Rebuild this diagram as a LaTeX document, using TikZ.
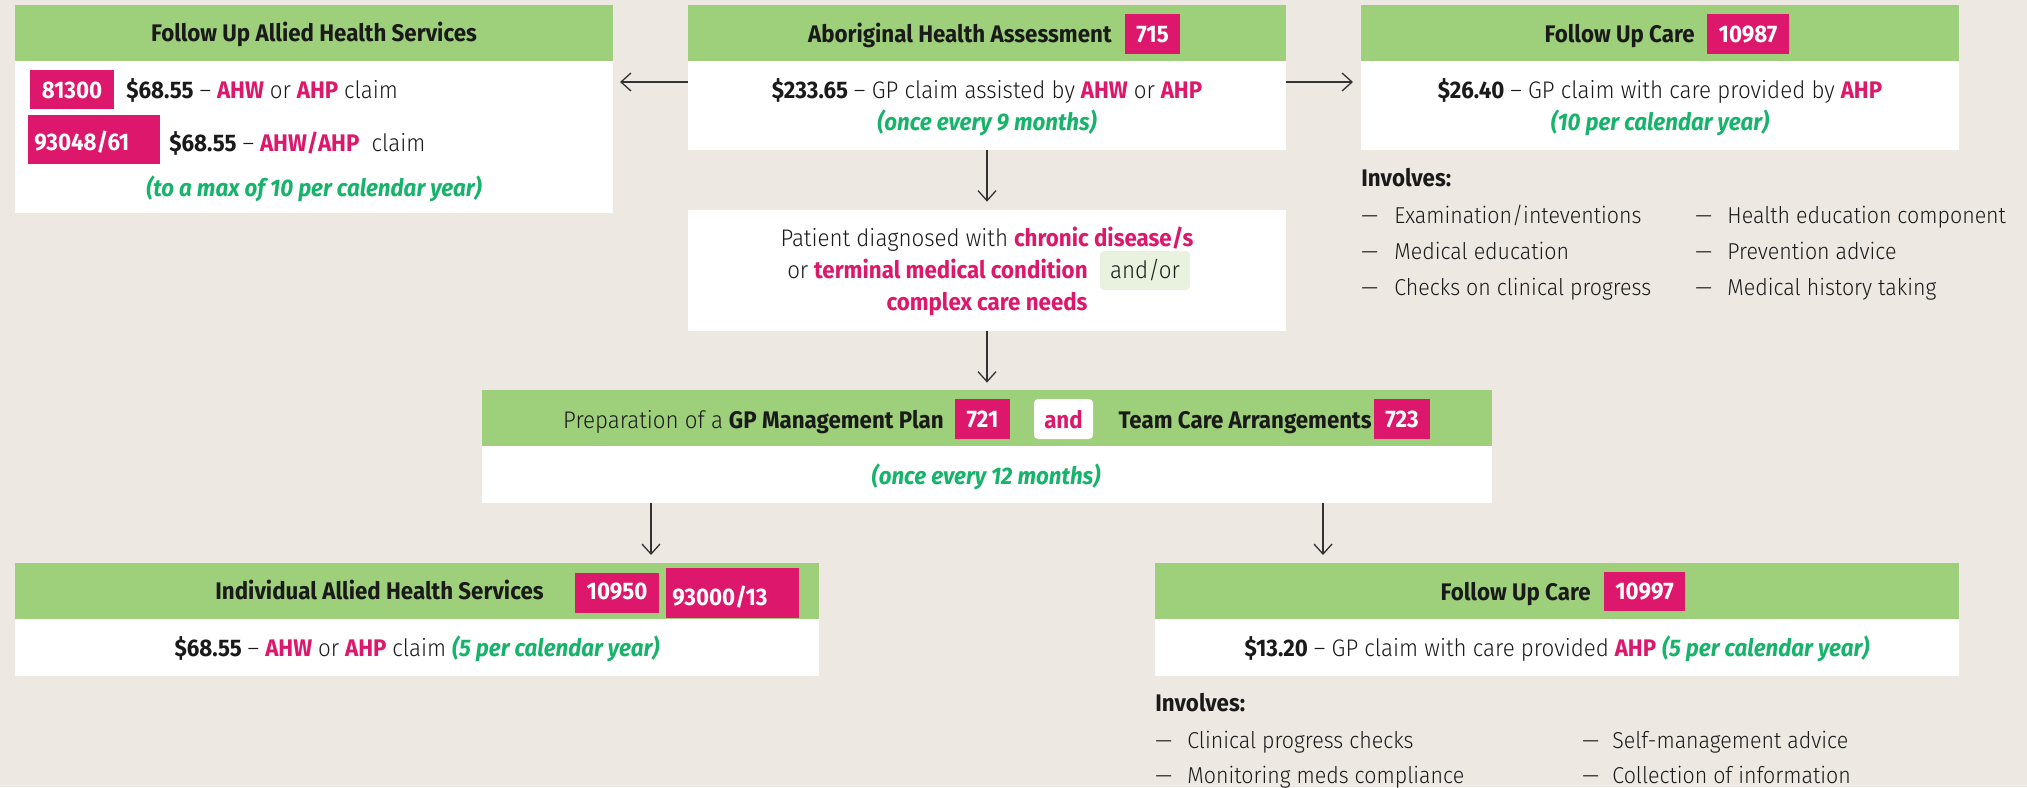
\documentclass[tikz,border=0pt]{standalone}
\usepackage{fontspec}
\setmainfont{Fira Sans}[FakeStretch=0.93]
\IfFontExistsTF{Fira Sans Light}{\newfontfamily\lightfont{Fira Sans Light}[FakeStretch=0.93]}{\newfontfamily\lightfont{Fira Sans}[FakeStretch=0.93]}
\usetikzlibrary{fit,arrows.meta}
\definecolor{bg}{HTML}{EDE9E2}
\definecolor{hgreen}{HTML}{9ECF7A}
\definecolor{mag}{HTML}{DC176C}
\definecolor{tgreen}{HTML}{16B36A}
\definecolor{andbg}{HTML}{E8F2DE}
\definecolor{ink}{HTML}{1A1A1A}
\definecolor{arrowc}{HTML}{333333}
\newcommand\fs{\fontsize{12}{14}\selectfont}
\newcommand\fsl{\fontsize{11.5}{14}\selectfont}
\newcommand\bd[1]{{\bfseries #1}}
\newcommand\mg[1]{{\bfseries\color{mag}#1}}
\newcommand\gi[1]{{\bfseries\itshape\color{tgreen}#1}}
\newcommand\lt[1]{{\lightfont #1}}
\tikzset{
  hdr/.style={fill=hgreen, inner sep=0pt},
  bodybox/.style={fill=white, inner sep=0pt},
  badge/.style={fill=mag, inner sep=0pt},
  txt/.style={inner sep=0pt, anchor=base, text=ink, font=\fs},
  txtw/.style={txt, anchor=base west},
  badgetxt/.style={txt, text=white, font=\fs\bfseries},
  item/.style={txtw, font=\fsl\lightfont},
  arr/.style={draw=arrowc, line width=0.65pt, -{Straight Barb[length=5pt,width=9pt]}}
}
\begin{document}
\begin{tikzpicture}[x=0.5pt,y=-0.5pt]
\fill[bg] (0,0) rectangle (2027,787);
\useasboundingbox (0,0) rectangle (2027,787);

% ---------- Box A: Follow Up Allied Health Services
\node[bodybox, fit={(15,5)(613,213)}] (A) {};
\node[hdr, fit={(15,5)(613,61)}] (Ah) {};
\node[txt] (Atitle) at (314,41) {\bfseries Follow Up Allied Health Services};
\node[badge, fit={(30,70)(114,109)}] (b81300) {};
\node[badgetxt] (b81300t) at (72,98) {81300};
\node[txtw] (Arow1) at (126,98) {\bd{\$68.55} \lt{–} \mg{AHW} \lt{or} \mg{AHP} \lt{claim}};
\node[badge, fit={(28,115)(160,164)}] (b93048) {};
\node[badgetxt, anchor=base west] (b93048t) at (34,150) {93048/61};
\node[txtw] (Arow2) at (169,151) {\bd{\$68.55} \lt{–} \mg{AHW/AHP} \lt{\ claim}};
\node[txt] (Agreen) at (314,196) {\gi{(to a max of 10 per calendar year)}};

% ---------- Box B: Aboriginal Health Assessment
\node[bodybox, fit={(688,5)(1286,150)}] (B) {};
\node[hdr, fit={(688,5)(1286,61)}] (Bh) {};
\node[txt, anchor=base east] (Btitle) at (1112,42) {\bfseries Aboriginal Health Assessment};
\node[badge, fit={(1125,14)(1180,54)}] (b715) {};
\node[badgetxt] (b715t) at (1152.5,42) {715};
\node[txt] (Bl1) at (987,98) {\bd{\$233.65} \lt{– GP claim assisted by} \mg{AHW} \lt{or} \mg{AHP}};
\node[txt] (Bl2) at (987,130) {\gi{(once every 9 months)}};

% ---------- Box C: Follow Up Care 10987
\node[bodybox, fit={(1361,5)(1959,150)}] (C) {};
\node[hdr, fit={(1361,5)(1959,61)}] (Ch) {};
\node[txt, anchor=base east] (Ctitle) at (1695,42) {\bfseries Follow Up Care};
\node[badge, fit={(1707,14)(1789,54)}] (b10987) {};
\node[badgetxt] (b10987t) at (1748,42) {10987};
\node[txt] (Cl1) at (1660,98) {\bd{\$26.40} \lt{– GP claim with care provided by} \mg{AHP}};
\node[txt] (Cl2) at (1660,130) {\gi{(10 per calendar year)}};
\node[txtw] (Cinv) at (1361,186) {\bfseries Involves:};
\node[item] (Cd1) at (1361,223) {—};
\node[item] (Ct1) at (1394,223) {Examination/inteventions};
\node[item] (Cd2) at (1361,259) {—};
\node[item] (Ct2) at (1394,259) {Medical education};
\node[item] (Cd3) at (1361,295) {—};
\node[item] (Ct3) at (1394,295) {Checks on clinical progress};
\node[item] (Cd4) at (1695,223) {—};
\node[item] (Ct4) at (1727,223) {Health education component};
\node[item] (Cd5) at (1695,259) {—};
\node[item] (Ct5) at (1727,259) {Prevention advice};
\node[item] (Cd6) at (1695,295) {—};
\node[item] (Ct6) at (1727,295) {Medical history taking};

% ---------- Box D: Patient diagnosed
\node[bodybox, fit={(688,210)(1286,331)}] (D) {};
\node[txt] (Dl1) at (987,246) {\lt{Patient diagnosed with} \mg{chronic disease/s}};
\node[txt, anchor=base east] (Dl2) at (1088,278) {\lt{or} \mg{terminal medical condition}};
\node[fill=andbg, rounded corners=2pt, inner sep=0pt, fit={(1100,251)(1190,290)}] (andor) {};
\node[txt] (andort) at (1145,278) {\lt{and/or}};
\node[txt] (Dl3) at (987,310) {\mg{complex care needs}};

% ---------- Box E: Preparation
\node[bodybox, fit={(482,390)(1492,503)}] (E) {};
\node[hdr, fit={(482,390)(1492,446)}] (Eh) {};
\node[txt, anchor=base east] (Etitle) at (944,428) {\lt{Preparation of a} \bd{GP Management Plan}};
\node[badge, fit={(955,399)(1010,439)}] (b721) {};
\node[badgetxt] (b721t) at (982.5,427) {721};
\node[fill=white, rounded corners=2pt, inner sep=0pt, fit={(1034,399)(1093,439)}] (andbox) {};
\node[txt] (andt) at (1063.5,428) {\mg{and}};
\node[txt, anchor=base east] (Etitle2) at (1372,428) {\bd{Team Care Arrangements}};
\node[badge, fit={(1374,399)(1430,439)}] (b723) {};
\node[badgetxt] (b723t) at (1402,427) {723};
\node[txt] (Egreen) at (986,484) {\gi{(once every 12 months)}};

% ---------- Box F: Individual Allied Health Services
\node[bodybox, fit={(15,563)(819,676)}] (F) {};
\node[hdr, fit={(15,563)(819,619)}] (Fh) {};
\node[txt, anchor=base east] (Ftitle) at (544,599) {\bfseries Individual Allied Health Services};
\node[badge, fit={(575,573)(659,613)}] (b10950) {};
\node[badgetxt] (b10950t) at (617,599) {10950};
\node[badge, fit={(666,568)(799,618)}] (b93000) {};
\node[badgetxt, anchor=base west] (b93000t) at (672,605) {93000/13};
\node[txt] (Fl1) at (417,656) {\bd{\$68.55} \lt{–} \mg{AHW} \lt{or} \mg{AHP} \lt{claim} \gi{(5 per calendar year)}};

% ---------- Box G: Follow Up Care 10997
\node[bodybox, fit={(1155,563)(1959,676)}] (G) {};
\node[hdr, fit={(1155,563)(1959,619)}] (Gh) {};
\node[txt, anchor=base east] (Gtitle) at (1591,600) {\bfseries Follow Up Care};
\node[badge, fit={(1604,572)(1685,611)}] (b10997) {};
\node[badgetxt] (b10997t) at (1644.5,599.5) {10997};
\node[txt] (Gl1) at (1557,656) {\bd{\$13.20} \lt{– GP claim with care provided} \mg{AHP} \gi{(5 per calendar year)}};
\node[txtw] (Ginv) at (1155,711) {\bfseries Involves:};
\node[item] (Gd1) at (1155,748) {—};
\node[item] (Gt1) at (1187,748) {Clinical progress checks};
\node[item] (Gd2) at (1155,783) {—};
\node[item] (Gt2) at (1187,783) {Monitoring meds compliance};
\node[item] (Gd3) at (1582,748) {—};
\node[item] (Gt3) at (1612,748) {Self-management advice};
\node[item] (Gd4) at (1582,783) {—};
\node[item] (Gt4) at (1612,783) {Collection of information};

% ---------- connectors
\coordinate (tipA) at (620,82);
\coordinate (tipC) at (1353,82);
\coordinate (tipF) at (651,555);
\coordinate (tipG) at (1323,555);
\draw[arr] (B.west |- tipA) -- (tipA);
\draw[arr] (B.east |- tipC) -- (tipC);
\draw[arr, shorten >=4pt] (B.south) -- (D.north);
\draw[arr, shorten >=3.5pt] (D.south) -- (E.north -| D.south);
\draw[arr] (E.south -| tipF) -- (tipF);
\draw[arr] (E.south -| tipG) -- (tipG);
\end{tikzpicture}
\end{document}
